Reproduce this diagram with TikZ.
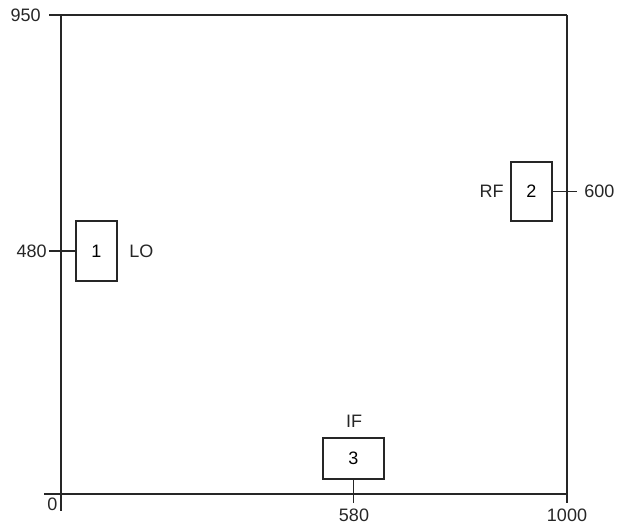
\documentclass[tikz,border=0pt]{standalone}
\usepackage{fontspec}
\setmainfont{Liberation Sans}
\begin{document}
\begin{tikzpicture}[x=0.75pt,y=-0.75pt,
  line/.style={line width=0.9pt, draw=black!85},
  box/.style={draw=black!85, line width=0.9pt, fill=white, inner sep=0pt, font=\fontsize{13.5}{15}\selectfont},
  lbl/.style={inner sep=0pt, font=\fontsize{13.5}{15}\selectfont, text=black!85}]
\useasboundingbox (0,0) rectangle (618,527);
% frame coordinates
\coordinate (tl) at (61,15);
\coordinate (tlx) at (49,15);
\coordinate (tr) at (567,15);
\coordinate (bl) at (61,511);
\coordinate (blx) at (44,494);
\coordinate (br) at (567,494);
\coordinate (brd) at (567,503);
% axes
\draw[line] (tlx) -- (tr);
\draw[line] (tl) -- (bl);
\draw[line] (tr) -- (brd);
\draw[line] (blx) -- (br);
% boxes
\node[box, minimum width=30.75pt, minimum height=45pt] (b1) at (96.5,251) {1};
\node[box, minimum width=30.75pt, minimum height=44.25pt] (b2) at (531.5,191.5) {2};
\node[box, minimum width=45.75pt, minimum height=30.75pt] (b3) at (353.5,458.5) {3};
% tick ends
\coordinate (t1) at (49,251);
\coordinate (t2) at (577,191.5);
\coordinate (t3) at (353.5,503);
\draw[line] (b1.west) -- (t1);
\draw[line] (b2.east) -- (t2);
\draw[line] (b3.south) -- (t3);
% labels
\node[lbl, anchor=east] (l950) at (41,15) {950};
\node[lbl, anchor=east] (l480) at (47,251) {480};
\node[lbl, anchor=west] (l600) at (584,191.5) {600};
\node[lbl] (l0) at (52.5,504) {0};
\node[lbl] (l580) at (354,515.5) {580};
\node[lbl] (l1000) at (567,515.5) {1000};
\node[lbl, anchor=west] (lLO) at (129,251) {LO};
\node[lbl, anchor=east] (lRF) at (504,191.5) {RF};
\node[lbl] (lIF) at (354,421) {IF};
\end{tikzpicture}
\end{document}
